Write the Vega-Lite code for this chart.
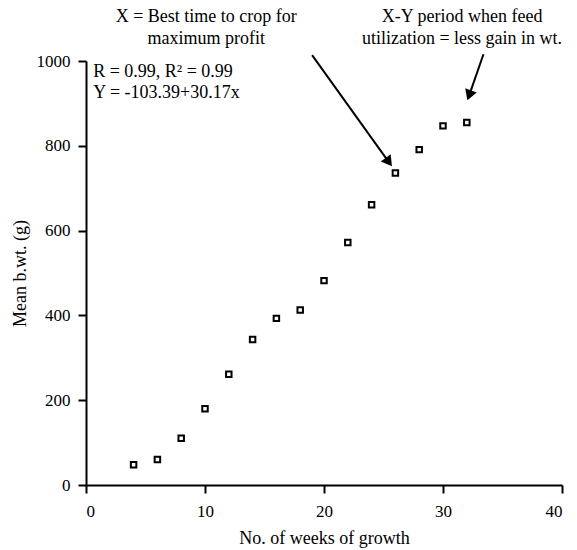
{
  "$schema": "https://vega.github.io/schema/vega-lite/v6.json",
  "width": 476,
  "height": 424,
  "autosize": {"type": "none"},
  "padding": {"left": 86, "top": 61, "right": 15, "bottom": 65},
  "background": "white",
  "config": {
    "view": {"stroke": null},
    "font": "Liberation Serif",
    "text": {"font": "Liberation Serif"},
    "axis": {
      "domainColor": "black",
      "domainWidth": 2,
      "tickColor": "black",
      "tickWidth": 2,
      "tickSize": 8,
      "labelColor": "black",
      "titleColor": "black",
      "labelFont": "Liberation Serif",
      "titleFont": "Liberation Serif",
      "labelFontSize": 17,
      "titleFontSize": 18,
      "titleFontWeight": "normal",
      "grid": false
    }
  },
  "datasets": {
    "points": [
      {"x": 4, "y": 48},
      {"x": 6, "y": 60},
      {"x": 8, "y": 110},
      {"x": 10, "y": 180},
      {"x": 12, "y": 261},
      {"x": 14, "y": 343},
      {"x": 16, "y": 393},
      {"x": 18, "y": 413},
      {"x": 20, "y": 482},
      {"x": 22, "y": 572},
      {"x": 24, "y": 661},
      {"x": 26, "y": 736},
      {"x": 28, "y": 791},
      {"x": 30, "y": 847},
      {"x": 32, "y": 855}
    ],
    "arrows": [
      {"x": 19.0, "y": 1014, "x2": 25.36, "y2": 765, "angle": 144},
      {"x": 33.4, "y": 1016, "x2": 32.25, "y2": 923, "angle": 200}
    ],
    "notes": [
      {"x": 10.1, "y": 1104, "text": "X = Best time to crop for"},
      {"x": 10.1, "y": 1052, "text": "maximum profit"},
      {"x": 31.6, "y": 1104, "text": "X-Y period when feed"},
      {"x": 31.6, "y": 1052, "text": "utilization = less gain in wt."}
    ],
    "stats": [
      {"x": 0.6, "y": 974, "text": "R = 0.99, R² = 0.99"},
      {"x": 0.6, "y": 925, "text": "Y = -103.39+30.17x"}
    ]
  },
  "encoding": {
    "x": {
      "field": "x",
      "type": "quantitative",
      "scale": {"domain": [0, 40], "nice": false, "zero": false},
      "axis": {"title": "No. of weeks of growth", "values": [0, 10, 20, 30, 40], "format": "d", "labelPadding": 10, "titlePadding": 10}
    },
    "y": {
      "field": "y",
      "type": "quantitative",
      "scale": {"domain": [0, 1000], "nice": false, "zero": false},
      "axis": {"title": "Mean b.wt. (g)", "values": [0, 200, 400, 600, 800, 1000], "format": "d", "labelPadding": 8, "titlePadding": 7}
    }
  },
  "layer": [
    {
      "data": {"name": "points"},
      "mark": {"type": "point", "shape": "square", "filled": false, "stroke": "black", "strokeWidth": 2, "size": 30, "opacity": 1}
    },
    {
      "data": {"name": "arrows"},
      "mark": {"type": "rule", "color": "black", "strokeWidth": 2},
      "encoding": {"x2": {"field": "x2"}, "y2": {"field": "y2"}}
    },
    {
      "data": {"name": "arrows"},
      "mark": {"type": "point", "shape": "triangle", "filled": true, "color": "black", "size": 150, "opacity": 1},
      "encoding": {
        "x": {"field": "x2", "type": "quantitative"},
        "y": {"field": "y2", "type": "quantitative"},
        "angle": {"field": "angle", "type": "quantitative", "scale": null}
      }
    },
    {
      "data": {"name": "notes"},
      "mark": {"type": "text", "align": "center", "baseline": "middle", "fontSize": 18, "font": "Liberation Serif", "color": "black"},
      "encoding": {"text": {"field": "text"}}
    },
    {
      "data": {"name": "stats"},
      "mark": {"type": "text", "align": "left", "baseline": "middle", "fontSize": 18, "font": "Liberation Serif", "color": "black"},
      "encoding": {"text": {"field": "text"}}
    }
  ]
}
